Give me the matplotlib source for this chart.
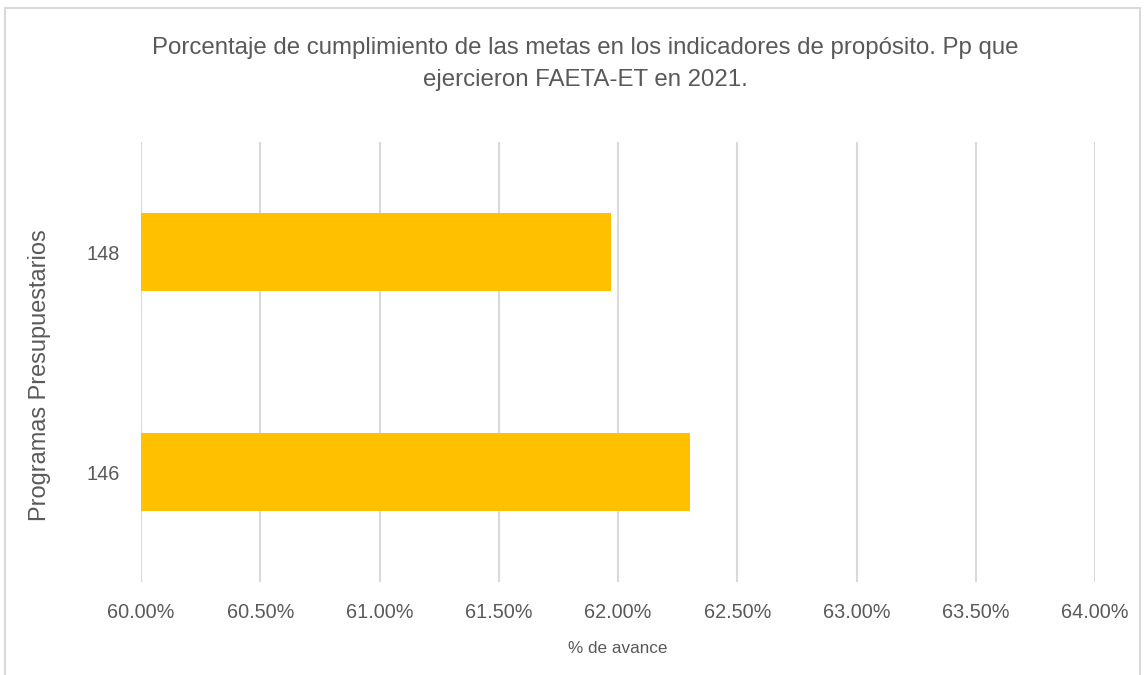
import matplotlib
matplotlib.use("Agg")
import matplotlib.pyplot as plt
from matplotlib.patches import Rectangle
from matplotlib.ticker import FuncFormatter

categories = ["146", "148"]
values = [62.30, 61.97]
xticks = [60.0, 60.5, 61.0, 61.5, 62.0, 62.5, 63.0, 63.5, 64.0]
title = "Porcentaje de cumplimiento de las metas en los indicadores de propósito. Pp que\nejercieron FAETA-ET en 2021."
xlabel = "% de avance"
ylabel = "Programas Presupuestarios"

plt.rcParams['font.family'] = ['Liberation Sans', 'DejaVu Sans']

W, H = 1144, 675
fig = plt.figure(figsize=(W / 100, H / 100), dpi=100)
ax = fig.add_axes([141 / W, 1 - 582 / H, (1095 - 141) / W, (582 - 142) / H])

ypos = list(range(len(categories)))
ax.barh(ypos, [v - 60.0 for v in values], left=60.0, height=0.355, color="#FFC000", zorder=3)
ax.set_xlim(60.0, 64.0)
ax.set_ylim(-0.5, 1.5)
ax.set_xticks(xticks)
ax.xaxis.set_major_formatter(FuncFormatter(lambda v, p: f"{v:.2f}%"))
ax.set_yticks(ypos)
ax.set_yticklabels(categories)
ax.grid(axis="x", color="#d9d9d9", linewidth=1.5, zorder=0)
for s in ax.spines.values():
    s.set_visible(False)
ax.tick_params(axis="both", length=0, labelsize=14.3, colors="#595959")
ax.tick_params(axis="x", pad=15)
ax.tick_params(axis="y", pad=15)

ax.set_xlabel(xlabel, fontsize=12.3, color="#595959", labelpad=14)
fig.text(40 / W, 1 - 375 / H, ylabel, rotation=90, ha="center", va="center", fontsize=16.9, color="#595959")
fig.text(585 / W, 1 - 64 / H, title, ha="center", va="center", fontsize=17.3, color="#595959", linespacing=1.6)

fig.patches.append(Rectangle((5 / W, -0.02), (1140 - 5) / W, 1.02 - 8 / H, transform=fig.transFigure,
                             fill=False, edgecolor="#d9d9d9", linewidth=1.5))
fig.savefig("out.png", dpi=100, facecolor="white")
